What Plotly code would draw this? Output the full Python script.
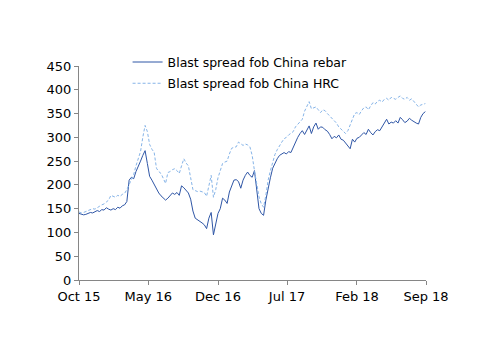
import pandas as pd
import plotly.graph_objects as go

# weekly observations starting 1 Oct 2015
dates = pd.date_range("2015-10-01", periods=153, freq="7D")

rebar = [
    140, 139, 137, 138, 140, 142, 141, 144, 146, 144,
    148, 147, 152, 149, 147, 150, 148, 153, 151, 156,
    158, 165, 210, 216, 213, 228, 238, 250, 262, 272,
    245, 218, 210, 200, 192, 183, 177, 172, 168, 172,
    178, 183, 180, 184, 178, 198, 194, 188, 183, 170,
    145, 130, 127, 124, 120, 116, 108, 130, 142, 95,
    118, 140, 150, 172, 168, 161, 185, 200, 210, 211,
    207, 193, 210, 220, 227, 220, 216, 230, 185, 150,
    140, 136, 168, 195, 215, 235, 246, 255, 262, 266,
    268, 265, 270, 268, 280, 290, 300, 308, 314, 306,
    316, 324, 308, 322, 330, 317, 322, 321, 316, 313,
    306, 297, 302, 299, 305, 296, 294, 288, 283, 276,
    296, 290, 298, 300, 305, 310, 306, 317, 310, 305,
    312, 316, 314, 322, 330, 338, 328, 332, 330, 335,
    330, 342, 337, 331, 334, 340, 336, 332, 330, 328,
    342, 350, 354,
]

hrc = [
    143, 141, 142, 144, 146, 148, 150, 149, 153, 155,
    158, 160, 164, 168, 178, 176, 174, 178, 176, 180,
    182, 190, 200, 212, 222, 240, 255, 270, 300, 325,
    312, 285, 275, 268, 235, 228, 224, 212, 203, 226,
    228, 232, 234, 230, 224, 240, 255, 246, 240, 215,
    190, 188, 186, 187, 185, 184, 176, 200, 220, 174,
    190, 215, 232, 245, 248, 250, 265, 277, 279, 280,
    290, 287, 283, 286, 284, 280, 262, 230, 200, 175,
    160, 153, 178, 210, 230, 250, 264, 274, 283, 290,
    297, 300, 305, 308, 312, 322, 328, 333, 338, 355,
    366, 375, 360, 362, 364, 358, 352, 358, 356, 350,
    345, 342, 335, 330, 322, 318, 312, 308, 314, 326,
    342, 350, 352, 348, 356, 362, 364, 358, 366, 373,
    370, 376, 378, 374, 380, 382, 378, 384, 382, 380,
    384, 387, 382, 380, 384, 378, 381, 376, 370, 364,
    368, 370, 371,
]

tick_dates = ["2015-10-01", "2016-05-01", "2016-12-01", "2017-07-01", "2018-02-01", "2018-09-01"]
tick_labels = ["Oct 15", "May 16", "Dec 16", "Jul 17", "Feb 18", "Sep 18"]
y_ticks = list(range(0, 451, 50))

fig = go.Figure()
fig.add_trace(go.Scatter(
    x=dates, y=rebar, mode="lines", name="Blast spread fob China rebar",
    legendgroup="a",
    line=dict(color="#2f56a6", width=1),
))
fig.add_trace(go.Scatter(
    x=dates, y=hrc, mode="lines", name="Blast spread fob China HRC",
    legendgroup="b",
    line=dict(color="#86b4e8", width=1, dash="3px,2px"),
))

fig.update_layout(
    width=500, height=354,
    margin=dict(l=79, r=74, t=66, b=74),
    paper_bgcolor="white", plot_bgcolor="white",
    font=dict(family="DejaVu Sans", size=13, color="#000000"),
    showlegend=True,
    legend=dict(
        x=0.14, y=1.087, xanchor="left", yanchor="top",
        bgcolor="rgba(0,0,0,0)", font=dict(size=12.5),
        traceorder="grouped", tracegroupgap=2, itemwidth=30,
    ),
    xaxis=dict(
        type="date", range=["2015-10-01", "2018-09-01"],
        tickvals=tick_dates, ticktext=tick_labels,
        showgrid=False, zeroline=False, showline=True,
        linecolor="#868686", linewidth=1,
        ticks="outside", ticklen=4, tickcolor="#868686",
    ),
    yaxis=dict(
        range=[0, 450], tickvals=y_ticks,
        showgrid=False, zeroline=False, showline=True,
        linecolor="#868686", linewidth=1,
        ticks="outside", ticklen=4, tickcolor="#868686",
    ),
)

fig.write_html("out.html")
